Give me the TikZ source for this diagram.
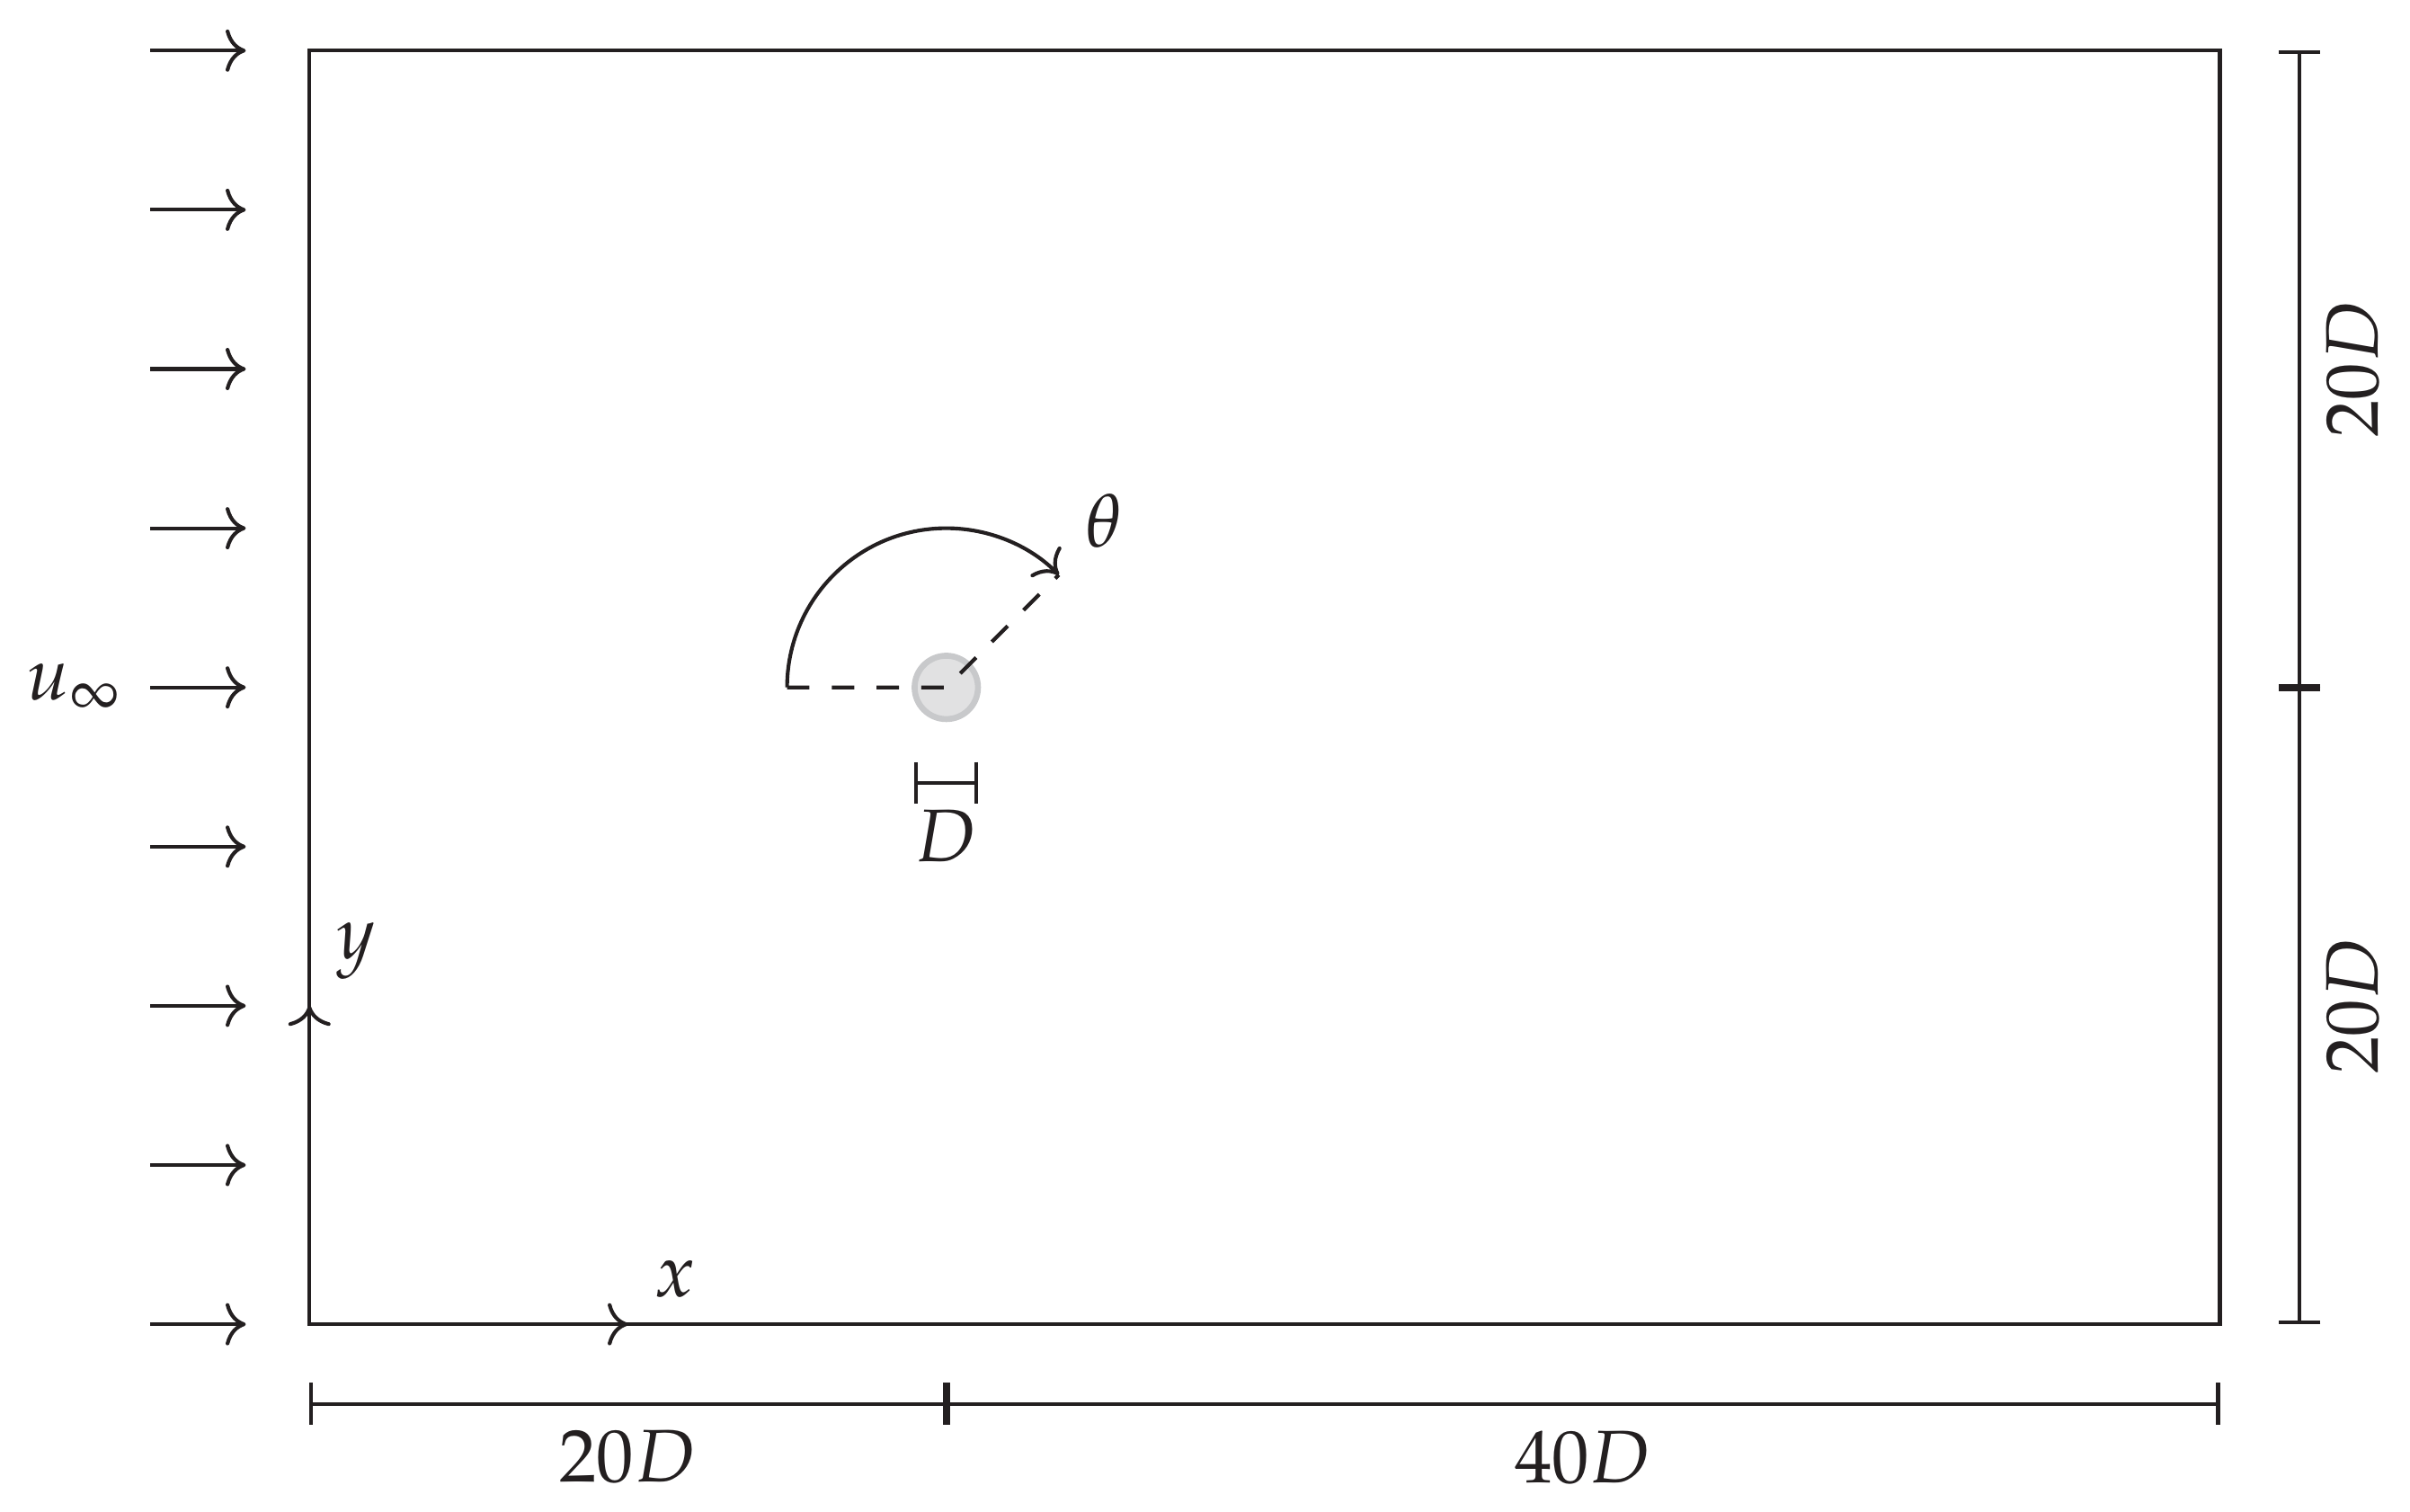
\documentclass[tikz,border=0pt]{standalone}
\usepackage{mathpazo}
\usetikzlibrary{arrows.meta}
\definecolor{ink}{HTML}{231F20}
\definecolor{cylfill}{HTML}{E1E1E2}
\definecolor{cyledge}{HTML}{C8C9CB}
\tikzset{
  dimline/.style={{Bar[width=5.6pt]}-{Bar[width=5.6pt]}},
  inflow/.style={->},
  cylinder/.style={circle, draw=cyledge, fill=cylfill, line width=0.8pt, minimum size=8.5pt, inner sep=0pt},
}
\begin{document}
\begin{tikzpicture}[x=4.27pt,y=4.27pt, color=ink, line width=0.5pt]
\useasboundingbox (-9.72,-5.89) rectangle (65.97,41.59);
% domain
\draw (0,0) rectangle (60,40);
% inflow arrows
\foreach \i in {0,...,8}{
  \coordinate (ia\i) at (-5,5*\i);
  \coordinate (ib\i) at (-2,5*\i);
  \draw[inflow] (ia\i) -- (ib\i);
}
\node[left] (uinf) at (ia4) {$u_\infty$};
% axes
\coordinate (o) at (0,0);
\coordinate (ax) at (10,0);
\coordinate (ay) at (0,10);
\draw[->] (o) -- (ax);
\draw[->] (o) -- (ay);
\node[above right] (xlab) at (ax) {$x$};
\node[above right] (ylab) at (ay) {$y$};
% cylinder
\node[cylinder] (cyl) at (20,20) {};
\coordinate (w) at (15,20);
\coordinate (t) at (23.5355,23.5355);
\draw[->] (w) arc[start angle=180, end angle=45, radius=5];
\draw[dashed] (w) -- (cyl.center) -- (t);
\node[above right] (theta) at (t) {$\theta$};
% D bar
\coordinate (d0) at (19,17);
\coordinate (d1) at (21,17);
\draw[dimline] (d0) -- (d1);
\node[below] (dlab) at (20,17) {$D$};
% bottom dimensions
\coordinate (b0) at (0,-2.5);
\coordinate (b1) at (20,-2.5);
\coordinate (b2) at (60,-2.5);
\draw[dimline] (b0) -- node[below] (l20) {$20D$} (b1);
\draw[dimline] (b1) -- node[below] (l40) {$40D$} (b2);
% right dimensions
\coordinate (r0) at (62.5,0);
\coordinate (r1) at (62.5,20);
\coordinate (r2) at (62.5,40);
\draw[dimline] (r0) -- node[rotate=90, anchor=north] (lr1) {$20D$} (r1);
\draw[dimline] (r1) -- node[rotate=90, anchor=north] (lr2) {$20D$} (r2);
\end{tikzpicture}
\end{document}
